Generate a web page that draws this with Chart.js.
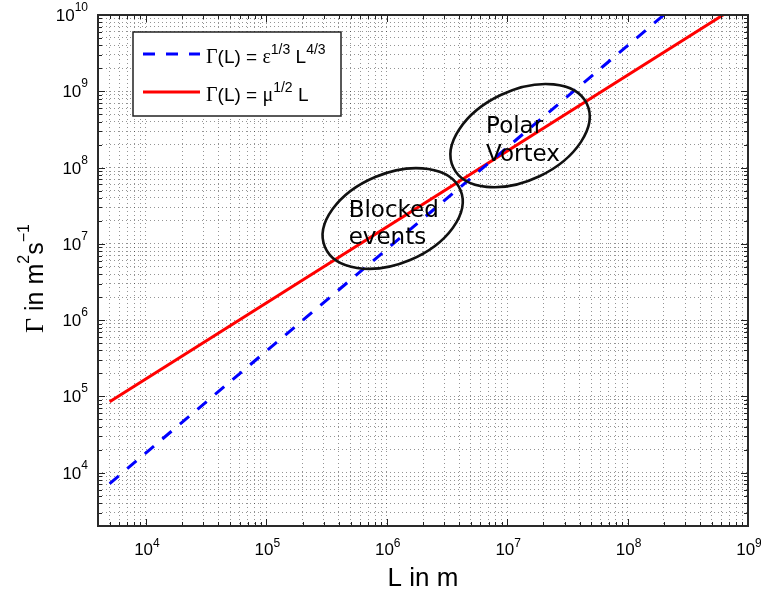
<!DOCTYPE html>
<html><head><meta charset="utf-8">
<style>html,body{margin:0;padding:0;background:#fff;} canvas{display:block;}</style>
<script src="https://cdn.jsdelivr.net/npm/chart.js@4/dist/chart.umd.min.js"></script>
</head><body>
<canvas id="c" width="761" height="594"></canvas>
<script>
// ---- data ----
const xRange = [4000, 1e9];
const yRange = [2000, 1e10];
const xMajorTicks = [1e4, 1e5, 1e6, 1e7, 1e8, 1e9];
const yMajorTicks = [1e4, 1e5, 1e6, 1e7, 1e8, 1e9, 1e10];
const blueL = [5e3, 2e8];
const blueGamma = [7.2e3, 1e10];
const redL = [5e3, 6.2e8];
const redGamma = [8.5e4, 1e10];
const regionNames = [['Blocked', 'events'], ['Polar', 'Vortex']];
const regionCenterL = [1.12e6, 1.28e7];
const regionCenterGamma = [2.15e7, 2.62e8];
const xTitle = 'L in m';
const legendLabels = ['\u0393(L) = \u03b5^{1/3} L^{4/3}', '\u0393(L) = \u03bc^{1/2} L'];

// ---- styles ----
const regionStyle = [
  {a: 73.5, b: 45, rot: -22.8, tx: -44, ty: [-1, 26]},
  {a: 74, b: 45, rot: -25.5, tx: -34, ty: [-3, 25]}
];
const SANS = '"Liberation Sans", Arial, sans-serif';
const SERIF = '"Liberation Serif", "Times New Roman", serif';

function allLogTicks(min, max) {
  const t = [];
  for (let e = Math.floor(Math.log10(min)); e <= Math.ceil(Math.log10(max)); e++) {
    for (let m = 1; m < 10; m++) {
      const v = m * Math.pow(10, e);
      if (v >= min * 0.9999 && v <= max * 1.0001) t.push(v);
    }
  }
  return t;
}
function isMajor(v) { const l = Math.log10(v); return Math.abs(l - Math.round(l)) < 1e-9; }

function runWidth(ctx, parts) {
  let w = 0;
  for (const p of parts) { ctx.font = p.font; w += ctx.measureText(p.t).width; }
  return w;
}
function drawRun(ctx, parts, x, y, align) {
  const w = runWidth(ctx, parts);
  let cx = align === 'center' ? x - w / 2 : align === 'right' ? x - w : x;
  ctx.textAlign = 'left';
  ctx.textBaseline = 'alphabetic';
  for (const p of parts) {
    ctx.font = p.font;
    ctx.fillText(p.t, cx, y + (p.dy || 0));
    cx += ctx.measureText(p.t).width;
  }
}
function powerLabel(v, big, small, rise) {
  return [{t: '10', font: big}, {t: String(Math.round(Math.log10(v))), font: small, dy: -rise}];
}

const deco = {
  id: 'deco',
  afterDatasetsDraw(chart) {
    const ctx = chart.ctx, xs = chart.scales.x, ys = chart.scales.y;
    ctx.save();
    for (let i = 0; i < regionNames.length; i++) {
      const st = regionStyle[i];
      const cx = xs.getPixelForValue(regionCenterL[i]);
      const cy = ys.getPixelForValue(regionCenterGamma[i]);
      ctx.beginPath();
      ctx.ellipse(cx, cy, st.a, st.b, st.rot * Math.PI / 180, 0, Math.PI * 2);
      ctx.lineWidth = 2.6;
      ctx.strokeStyle = '#111';
      ctx.stroke();
      ctx.fillStyle = '#000';
      ctx.font = '23px "DejaVu Sans", sans-serif';
      ctx.textAlign = 'left';
      ctx.textBaseline = 'alphabetic';
      regionNames[i].forEach((s, k) => ctx.fillText(s, cx + st.tx, cy + st.ty[k]));
    }
    ctx.restore();
  },
  afterDraw(chart) {
    const ctx = chart.ctx, xs = chart.scales.x, ys = chart.scales.y;
    const a = chart.chartArea;
    ctx.save();
    ctx.strokeStyle = '#222';
    ctx.lineWidth = 1;
    ctx.beginPath();
    for (const v of allLogTicks(xRange[0], xRange[1])) {
      const p = Math.round(xs.getPixelForValue(v)) + 0.5;
      const L = isMajor(v) ? 7 : 4;
      ctx.moveTo(p, a.bottom); ctx.lineTo(p, a.bottom - L);
      ctx.moveTo(p, a.top); ctx.lineTo(p, a.top + L);
    }
    for (const v of allLogTicks(yRange[0], yRange[1])) {
      const p = Math.round(ys.getPixelForValue(v)) + 0.5;
      const L = isMajor(v) ? 7 : 4;
      ctx.moveTo(a.left, p); ctx.lineTo(a.left + L, p);
      ctx.moveTo(a.right, p); ctx.lineTo(a.right - L, p);
    }
    ctx.stroke();
    ctx.lineWidth = 2;
    ctx.strokeStyle = '#2a2a2a';
    ctx.strokeRect(a.left, a.top, a.right - a.left, a.bottom - a.top);

    ctx.fillStyle = '#000';
    const big = '17px ' + SANS, small = '12px ' + SANS;
    for (const v of xMajorTicks) {
      drawRun(ctx, powerLabel(v, big, small, 8), xs.getPixelForValue(v) + 1, a.bottom + 29, 'center');
    }
    for (const v of yMajorTicks) {
      drawRun(ctx, powerLabel(v, big, small, 10), a.left - 10, ys.getPixelForValue(v) + 6, 'right');
    }
    ctx.font = '26px ' + SANS;
    ctx.textAlign = 'center';
    ctx.fillText(xTitle, (a.left + a.right) / 2, 586);
    ctx.save();
    ctx.translate(43, (a.top + a.bottom) / 2 + 8);
    ctx.rotate(-Math.PI / 2);
    const yt = [
      {t: '\u0393', font: '26px ' + SERIF},
      {t: ' in m', font: '25px ' + SANS},
      {t: '2', font: '16px ' + SANS, dy: -14},
      {t: 's', font: '25px ' + SANS},
      {t: '\u22121', font: '16px ' + SANS, dy: -14}
    ];
    drawRun(ctx, yt, 0, 0, 'center');
    ctx.restore();

    const lx = 133, ly = 32, lw = 208, lh = 84;
    ctx.fillStyle = '#fff';
    ctx.fillRect(lx, ly, lw, lh);
    ctx.lineWidth = 1.5;
    ctx.strokeStyle = '#222';
    ctx.strokeRect(lx, ly, lw, lh);
    const ds = chart.data.datasets;
    const rows = [54, 92];
    ds.forEach((d, i) => {
      ctx.beginPath();
      ctx.setLineDash(d.borderDash || []);
      ctx.lineWidth = d.borderWidth;
      ctx.strokeStyle = d.borderColor;
      ctx.moveTo(143, rows[i]); ctx.lineTo(200, rows[i]);
      ctx.stroke();
      ctx.setLineDash([]);
    });
    ctx.fillStyle = '#000';
    const m = '19px ' + SANS, g = '20px ' + SERIF, s = '14px ' + SANS;
    legendLabels.forEach((lab, i) => {
      const parts = [];
      const re = /\^\{([^}]*)\}/g;
      let last = 0, mm;
      const pushText = (txt) => {
        for (const ch of txt) {
          const greek = /[\u0370-\u03ff]/.test(ch);
          parts.push({t: ch, font: greek ? g : m});
        }
      };
      while ((mm = re.exec(lab))) {
        pushText(lab.slice(last, mm.index));
        parts.push({t: mm[1], font: s, dy: -9});
        last = re.lastIndex;
      }
      pushText(lab.slice(last));
      drawRun(ctx, parts, 206, rows[i] + 9, 'left');
    });
    ctx.restore();
  }
};

const xTicksAll = allLogTicks(xRange[0], xRange[1]);
const yTicksAll = allLogTicks(yRange[0], yRange[1]);

new Chart(document.getElementById('c'), {
  type: 'line',
  data: {
    datasets: [
      {
        label: legendLabels[0],
        data: blueL.map((x, i) => ({x, y: blueGamma[i]})),
        borderColor: '#0000ff', borderWidth: 3, borderDash: [12, 11],
        pointRadius: 0, fill: false, tension: 0
      },
      {
        label: legendLabels[1],
        data: redL.map((x, i) => ({x, y: redGamma[i]})),
        borderColor: '#ff0000', borderWidth: 3,
        pointRadius: 0, fill: false, tension: 0
      }
    ]
  },
  options: {
    responsive: false, animation: false, devicePixelRatio: 1,
    layout: {padding: {top: 15, right: 13, left: 0, bottom: 0}},
    plugins: {legend: {display: false}, tooltip: {enabled: false}},
    scales: {
      x: {
        type: 'logarithmic', min: xRange[0], max: xRange[1],
        afterBuildTicks: sc => { sc.ticks = xTicksAll.map(v => ({value: v})); },
        afterFit: sc => { sc.height = 68; },
        ticks: {display: false},
        grid: {color: 'rgba(0,0,0,0.42)', lineWidth: 1, drawTicks: false},
        border: {display: false, dash: [1, 3]}
      },
      y: {
        type: 'logarithmic', min: yRange[0], max: yRange[1],
        afterBuildTicks: sc => { sc.ticks = yTicksAll.map(v => ({value: v})); },
        afterFit: sc => { sc.width = 98; },
        ticks: {display: false},
        grid: {color: 'rgba(0,0,0,0.42)', lineWidth: 1, drawTicks: false},
        border: {display: false, dash: [1, 3]}
      }
    }
  },
  plugins: [deco]
});
</script>
</body></html>
